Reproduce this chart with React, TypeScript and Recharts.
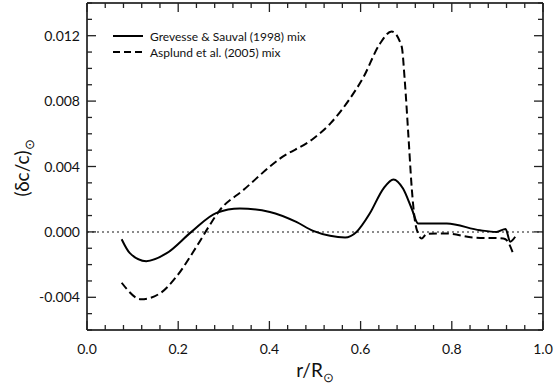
import React from 'react';
import { LineChart, Line, XAxis, YAxis, ReferenceLine } from 'recharts';

// Grevesse & Sauval (1998) mix
const gsR = [0.076, 0.094, 0.130, 0.174, 0.229, 0.284, 0.335, 0.401, 0.459, 0.496, 0.533, 0.566, 0.591, 0.620, 0.650, 0.672, 0.693, 0.712, 0.726, 0.789, 0.862, 0.898, 0.918, 0.928, 0.939];
const gsDc = [-0.00045, -0.0013, -0.00179, -0.00132, 0.0, 0.00116, 0.00143, 0.00122, 0.00061, 0.00006, -0.00024, -0.00034, 0.0, 0.00112, 0.00265, 0.00321, 0.00265, 0.00143, 0.00052, 0.00051, 0.0001, 0.0, 0.00018, -0.0006, -0.0003];

// Asplund et al. (2005) mix
const agsR = [0.076, 0.119, 0.160, 0.196, 0.240, 0.269, 0.291, 0.342, 0.423, 0.496, 0.533, 0.576, 0.606, 0.642, 0.668, 0.690, 0.697, 0.705, 0.712, 0.719, 0.726, 0.734, 0.745, 0.789, 0.847, 0.913, 0.920, 0.935];
const agsDc = [-0.00311, -0.00412, -0.00376, -0.00274, -0.00091, 0.00041, 0.00132, 0.00254, 0.00448, 0.0057, 0.00661, 0.00813, 0.00945, 0.01149, 0.01226, 0.01135, 0.0092, 0.0058, 0.00274, 0.00071, -0.0001, -0.0004, -0.00012, -0.0001, -0.00034, -0.0004, -0.0005, -0.00135];

const xTicks = [0, 0.04, 0.08, 0.12, 0.16, 0.2, 0.24, 0.28, 0.32, 0.36, 0.4, 0.44, 0.48, 0.52, 0.56, 0.6, 0.64, 0.68, 0.72, 0.76, 0.8, 0.84, 0.88, 0.92, 0.96, 1.0];
const xMajor = [0, 0.2, 0.4, 0.6, 0.8, 1.0];
const yTicks = [-0.006, -0.005, -0.004, -0.003, -0.002, -0.001, 0, 0.001, 0.002, 0.003, 0.004, 0.005, 0.006, 0.007, 0.008, 0.009, 0.01, 0.011, 0.012, 0.013, 0.014];
const yMajor = [-0.004, 0, 0.004, 0.008, 0.012];

const gsData = gsR.map((r, i) => ({ r, dc: gsDc[i] }));
const agsData = agsR.map((r, i) => ({ r, dc: agsDc[i] }));

const legendItems = [
    { name: 'Grevesse & Sauval (1998) mix', dash: undefined },
    { name: 'Asplund et al. (2005) mix', dash: '7 4' },
];

const FONT = 'Lato, "Liberation Sans", sans-serif';
const isMajor = (list: number[], v: number) => list.some((m) => Math.abs(m - v) < 1e-9);

const BottomTick = ({ x, y, payload }: any) => {
    const major = isMajor(xMajor, payload.value);
    return (
        <g>
            <line x1={x} x2={x} y1={y} y2={y - (major ? 9 : 5)} stroke="#222" strokeWidth={1.3} />
            {major && (
                <text x={x} y={y + 24} textAnchor="middle" fontSize={14} fill="#111" fontFamily={FONT}>
                    {payload.value.toFixed(1)}
                </text>
            )}
        </g>
    );
};

const TopTick = ({ x, y, payload }: any) => {
    const major = isMajor(xMajor, payload.value);
    return <line x1={x} x2={x} y1={y} y2={y + (major ? 9 : 5)} stroke="#222" strokeWidth={1.3} />;
};

const LeftTick = ({ x, y, payload }: any) => {
    const major = isMajor(yMajor, payload.value);
    return (
        <g>
            <line x1={x} x2={x + (major ? 9 : 5)} y1={y} y2={y} stroke="#222" strokeWidth={1.3} />
            {major && (
                <text x={x - 7} y={y + 5} textAnchor="end" fontSize={14} fill="#111" fontFamily={FONT}>
                    {payload.value.toFixed(3)}
                </text>
            )}
        </g>
    );
};

const RightTick = ({ x, y, payload }: any) => {
    const major = isMajor(yMajor, payload.value);
    return <line x1={x} x2={x - (major ? 9 : 5)} y1={y} y2={y} stroke="#222" strokeWidth={1.3} />;
};

const axisLine = { stroke: '#000', strokeWidth: 1.5 };

export default function App() {
    return (
        <div style={{ position: 'relative', width: 554, height: 388, background: '#fff', overflow: 'hidden' }}>
            <style>{'html,body{margin:0;padding:0;overflow:hidden;}'}</style>
            <LineChart width={554} height={388} margin={{ top: 0, right: 0, left: 0, bottom: 0 }}>
                <XAxis
                    xAxisId="b"
                    dataKey="r"
                    type="number"
                    domain={[0, 1]}
                    ticks={xTicks}
                    interval={0}
                    height={58}
                    tickSize={0}
                    tickMargin={0}
                    tickLine={false}
                    axisLine={axisLine}
                    tick={(p: any) => <BottomTick {...p} />}
                    allowDataOverflow
                />
                <XAxis
                    xAxisId="t"
                    orientation="top"
                    dataKey="r"
                    type="number"
                    domain={[0, 1]}
                    ticks={xTicks}
                    interval={0}
                    height={3}
                    tickSize={0}
                    tickMargin={0}
                    tickLine={false}
                    axisLine={axisLine}
                    tick={(p: any) => <TopTick {...p} />}
                    allowDataOverflow
                />
                <YAxis
                    yAxisId="l"
                    type="number"
                    domain={[-0.006, 0.014]}
                    ticks={yTicks}
                    interval={0}
                    width={87}
                    tickSize={0}
                    tickMargin={0}
                    tickLine={false}
                    axisLine={axisLine}
                    tick={(p: any) => <LeftTick {...p} />}
                    allowDataOverflow
                />
                <YAxis
                    yAxisId="rt"
                    orientation="right"
                    type="number"
                    domain={[-0.006, 0.014]}
                    ticks={yTicks}
                    interval={0}
                    width={11}
                    tickSize={0}
                    tickMargin={0}
                    tickLine={false}
                    axisLine={axisLine}
                    tick={(p: any) => <RightTick {...p} />}
                    allowDataOverflow
                />
                <ReferenceLine xAxisId="b" yAxisId="l" y={0} stroke="#8a8a8a" strokeWidth={2} strokeDasharray="2 3" />
                <Line
                    xAxisId="b"
                    yAxisId="l"
                    data={gsData}
                    dataKey="dc"
                    name="Grevesse & Sauval (1998) mix"
                    type="monotone"
                    stroke="#000"
                    strokeWidth={2}
                    dot={false}
                    isAnimationActive={false}
                />
                <Line
                    xAxisId="b"
                    yAxisId="l"
                    data={agsData}
                    dataKey="dc"
                    name="Asplund et al. (2005) mix"
                    type="monotone"
                    stroke="#000"
                    strokeWidth={2}
                    strokeDasharray="8 4"
                    dot={false}
                    isAnimationActive={false}
                />
            </LineChart>
            <div style={{ position: 'absolute', top: 28, left: 112, fontFamily: FONT, fontSize: 12, color: '#111' }}>
                {legendItems.map((item) => (
                    <div key={item.name} style={{ display: 'flex', alignItems: 'center', height: 16 }}>
                        <svg width={38} height={10}>
                            <line x1={1} x2={31} y1={5} y2={5} stroke="#000" strokeWidth={2} strokeDasharray={item.dash} />
                        </svg>
                        <span>{item.name}</span>
                    </div>
                ))}
            </div>
            <div
                style={{
                    position: 'absolute',
                    left: 22,
                    top: 168,
                    transform: 'translate(-50%, -50%) rotate(-90deg)',
                    fontFamily: FONT,
                    fontSize: 19,
                    lineHeight: '22px',
                    color: '#111',
                    whiteSpace: 'nowrap',
                }}
            >
                (δc/c)<sub style={{ fontSize: 13, lineHeight: 0 }}>⊙</sub>
            </div>
            <div
                style={{
                    position: 'absolute',
                    left: 315,
                    top: 370,
                    transform: 'translate(-50%, -50%)',
                    fontFamily: FONT,
                    fontSize: 19,
                    lineHeight: '22px',
                    color: '#111',
                    whiteSpace: 'nowrap',
                }}
            >
                r/R<sub style={{ fontSize: 13, lineHeight: 0 }}>⊙</sub>
            </div>
        </div>
    );
}
